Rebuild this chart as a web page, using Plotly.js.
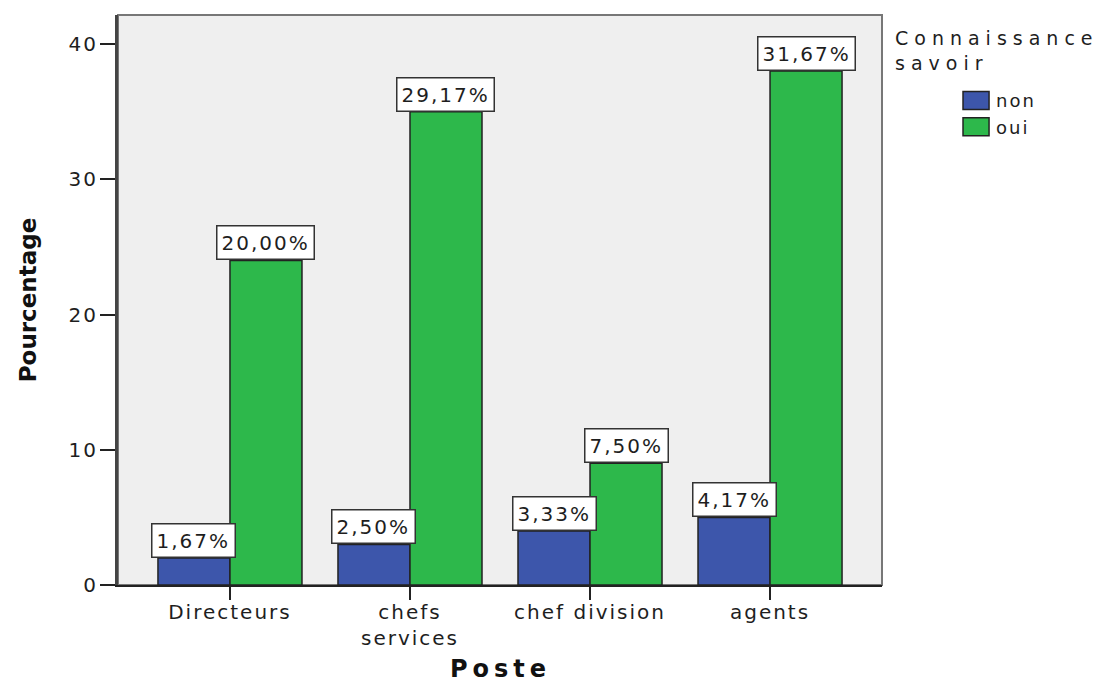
<!DOCTYPE html>
<html>
<head>
<meta charset="utf-8">
<script src="https://cdn.plot.ly/plotly-3.0.1.min.js"></script>
<style>
  html, body { margin: 0; padding: 0; background: #fff; }
  text { letter-spacing: 2px; }
  .legendpoints path { transform: translate(20px, 0px) scale(2.17, 1.5); vector-effect: non-scaling-stroke; }
</style>
</head>
<body>
<div id="chart" style="width:1112px;height:684px;"></div>
<script>
// Data
const categories = ['Directeurs', 'chefs services', 'chef division', 'agents'];
const tickLabels = ['Directeurs', 'chefs<br>services', 'chef division', 'agents'];
const seriesNames = ['non', 'oui'];
const nonValues = [2, 3, 4, 5];
const ouiValues = [24, 35, 9, 38];
const nonLabels = ['1,67%', '2,50%', '3,33%', '4,17%'];
const ouiLabels = ['20,00%', '29,17%', '7,50%', '31,67%'];
const yTicks = [0, 10, 20, 30, 40];
const xTitle = 'Poste';
const yTitle = 'Pourcentage';
const legendTitle = ['Connaissance', 'savoir'];

const FONT = 'DejaVu Sans, Arial, sans-serif';
const TXT = '#1e1e1e';
const colors = ['#3d56ab', '#2db84b'];
const seriesValues = [nonValues, ouiValues];
const seriesLabels = [nonLabels, ouiLabels];

const traces = seriesValues.map((vals, i) => ({
  type: 'bar',
  name: seriesNames[i],
  x: categories,
  y: vals,
  marker: { color: colors[i], line: { color: '#222', width: 1.5 } },
  hoverinfo: 'x+y+name'
}));

const annotations = [];
seriesValues.forEach((vals, i) => {
  const off = i === 0 ? -0.2 : 0.2;
  vals.forEach((v, j) => {
    annotations.push({
      x: j + off, y: v, xref: 'x', yref: 'y',
      xanchor: 'center', yanchor: 'bottom',
      text: seriesLabels[i][j], showarrow: false,
      bgcolor: '#ffffff', bordercolor: '#333', borderwidth: 1.5, borderpad: 4,
      font: { family: FONT, size: 20, color: TXT }
    });
  });
});
// legend title
annotations.push({
  x: 1.0144, y: 0.982, xref: 'paper', yref: 'paper',
  xanchor: 'left', yanchor: 'top', align: 'left', showarrow: false,
  text: legendTitle.map(t => '<span style="letter-spacing:6px">' + t + '</span>').join('<br>'),
  font: { family: FONT, size: 19, color: TXT }
});
// x-axis title
annotations.push({
  x: 0.5, y: -0.147, xref: 'paper', yref: 'paper',
  xanchor: 'center', yanchor: 'middle', showarrow: false, borderpad: 0,
  text: '<span style="letter-spacing:5px">' + xTitle + '</span>',
  font: { family: FONT, size: 24, color: '#111', weight: 'bold' }
});

const layout = {
  width: 1112, height: 684,
  margin: { l: 118, r: 230, t: 15, b: 99, pad: 0 },
  paper_bgcolor: '#ffffff',
  plot_bgcolor: '#efefef',
  font: { family: FONT, color: TXT, size: 20 },
  barmode: 'group', bargap: 0.2, bargroupgap: 0,
  showlegend: true,
  legend: {
    x: 1.0969, xanchor: 'left', y: 0.882, yanchor: 'top',
    bgcolor: 'rgba(0,0,0,0)', font: { family: FONT, size: 18, color: TXT },
    tracegroupgap: 0
  },
  xaxis: {
    type: 'category',
    range: [-0.622, 3.622],
    tickvals: categories, ticktext: tickLabels,
    ticks: 'outside', ticklen: 13, tickwidth: 1.5, tickcolor: '#222',
    ticklabelstandoff: -5,
    showline: true, linecolor: '#222', linewidth: 1.5,
    showgrid: false, zeroline: false,
    tickfont: { family: FONT, size: 20, color: TXT }
  },
  yaxis: {
    range: [0, 42.15],
    tickvals: yTicks,
    ticks: 'outside', ticklen: 15, tickwidth: 1.5, tickcolor: '#222',
    ticklabelstandoff: -2,
    showline: true, linecolor: '#444', linewidth: 3,
    showgrid: false, zeroline: false,
    tickfont: { family: FONT, size: 20, color: TXT },
    title: {
      text: '<span style="letter-spacing:0px">' + yTitle + '</span>',
      font: { family: FONT, size: 23, color: '#111', weight: 'bold' },
      standoff: 26
    }
  },
  shapes: [{
    type: 'rect', xref: 'paper', yref: 'paper', x0: 0, x1: 1, y0: 0, y1: 1,
    line: { color: '#777', width: 2 }, layer: 'below'
  }],
  annotations: annotations
};

Plotly.newPlot('chart', traces, layout, { displayModeBar: false, responsive: false });
</script>
</body>
</html>
